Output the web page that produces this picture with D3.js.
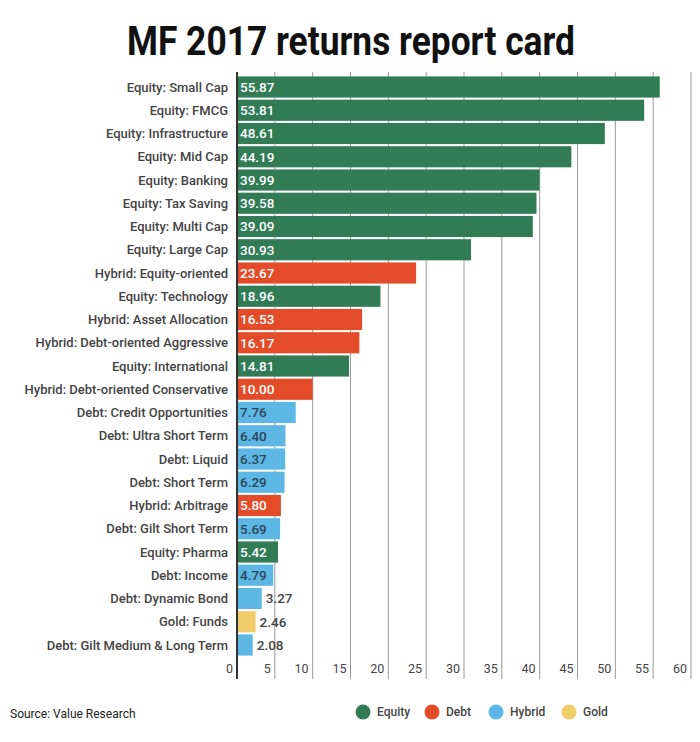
<!DOCTYPE html>
<html>
<head>
<meta charset="utf-8">
<script src="https://cdn.jsdelivr.net/npm/d3@7"></script>
<style>
  body { margin: 0; background: #fff; }
  svg { font-family: Roboto, "Noto Sans", sans-serif; }
</style>
</head>
<body>
<svg id="chart" width="700" height="742"></svg>
<script>
const categories = [
  "Equity: Small Cap", "Equity: FMCG", "Equity: Infrastructure", "Equity: Mid Cap",
  "Equity: Banking", "Equity: Tax Saving", "Equity: Multi Cap", "Equity: Large Cap",
  "Hybrid: Equity-oriented", "Equity: Technology", "Hybrid: Asset Allocation",
  "Hybrid: Debt-oriented Aggressive", "Equity: International",
  "Hybrid: Debt-oriented Conservative", "Debt: Credit Opportunities",
  "Debt: Ultra Short Term", "Debt: Liquid", "Debt: Short Term", "Hybrid: Arbitrage",
  "Debt: Gilt Short Term", "Equity: Pharma", "Debt: Income", "Debt: Dynamic Bond",
  "Gold: Funds", "Debt: Gilt Medium & Long Term"
];
const values = [
  55.87, 53.81, 48.61, 44.19, 39.99, 39.58, 39.09, 30.93, 23.67, 18.96, 16.53,
  16.17, 14.81, 10.00, 7.76, 6.40, 6.37, 6.29, 5.80, 5.69, 5.42, 4.79, 3.27, 2.46, 2.08
];
// colour group of each bar as drawn in the original
const groups = [
  "Equity", "Equity", "Equity", "Equity", "Equity", "Equity", "Equity", "Equity",
  "Debt", "Equity", "Debt", "Debt", "Equity", "Debt", "Hybrid", "Hybrid", "Hybrid",
  "Hybrid", "Debt", "Hybrid", "Equity", "Hybrid", "Hybrid", "Gold", "Hybrid"
];
const legendNames = ["Equity", "Debt", "Hybrid", "Gold"];
const legendColors = ["#317c55", "#e44c29", "#5db7e5", "#f1cc6b"];
const xTicks = d3.range(0, 61, 5);

const svg = d3.select("#chart");
const color = d3.scaleOrdinal().domain(legendNames).range(legendColors);

const x = d3.scaleLinear().domain([0, 60]).range([237, 691]);
const y = d3.scaleBand().domain(categories).range([75.5, 656.5]).paddingInner(0.09).paddingOuter(0.04);

// title
svg.append("text")
  .attr("x", 351).attr("y", 55)
  .attr("text-anchor", "middle")
  .attr("font-size", 40).attr("font-weight", 700)
  .attr("fill", "#111")
  .attr("textLength", 448).attr("lengthAdjust", "spacingAndGlyphs")
  .text("MF 2017 returns report card");

// grid lines
svg.append("g")
  .selectAll("line")
  .data(xTicks.filter(d => d > 0))
  .join("line")
  .attr("x1", d => x(d)).attr("x2", d => x(d))
  .attr("y1", 72).attr("y2", 679)
  .attr("stroke", "#999").attr("stroke-width", 1);

// tick labels
svg.append("g")
  .selectAll("text")
  .data(xTicks)
  .join("text")
  .attr("x", d => x(d) - 4)
  .attr("y", 673)
  .attr("text-anchor", "end")
  .attr("font-size", 12.5)
  .attr("fill", "#444")
  .text(d => d);

// bars
svg.append("g")
  .selectAll("rect")
  .data(values)
  .join("rect")
  .attr("x", x(0))
  .attr("y", (d, i) => y(categories[i]))
  .attr("width", d => x(d) - x(0))
  .attr("height", y.bandwidth())
  .attr("fill", (d, i) => color(groups[i]));

// zero axis
svg.append("line")
  .attr("x1", x(0)).attr("x2", x(0))
  .attr("y1", 72).attr("y2", 679)
  .attr("stroke", "#333").attr("stroke-width", 2);

// category labels
svg.append("g")
  .selectAll("text")
  .data(categories)
  .join("text")
  .attr("x", 228)
  .attr("y", d => y(d) + y.bandwidth() / 2)
  .attr("dy", "0.35em")
  .attr("text-anchor", "end")
  .attr("font-size", 13).attr("font-weight", 500)
  .attr("fill", "#444")
  .text(d => d);

// value labels
svg.append("g")
  .selectAll("text")
  .data(values)
  .join("text")
  .attr("x", d => d >= 4 ? x(0) + 3 : x(d) + 4)
  .attr("y", (d, i) => y(categories[i]) + y.bandwidth() / 2)
  .attr("dy", "0.36em")
  .attr("font-size", 13.5).attr("font-weight", 500)
  .attr("fill", (d, i) => d < 4 ? "#444" : groups[i] === "Hybrid" ? "#2d4556" : "#fff")
  .text(d => d.toFixed(2));

// source
svg.append("text")
  .attr("x", 10).attr("y", 718)
  .attr("font-size", 12)
  .attr("fill", "#222")
  .text("Source: Value Research");

// legend
const legendX = [363, 432, 496, 569];
const legend = svg.append("g")
  .selectAll("g")
  .data(legendNames)
  .join("g")
  .attr("transform", (d, i) => `translate(${legendX[i]},712)`);
legend.append("circle").attr("r", 7.5).attr("fill", d => color(d));
legend.append("text")
  .attr("x", 14).attr("dy", "0.35em")
  .attr("font-size", 12).attr("font-weight", 500)
  .attr("fill", "#444")
  .text(d => d);
</script>
</body>
</html>
